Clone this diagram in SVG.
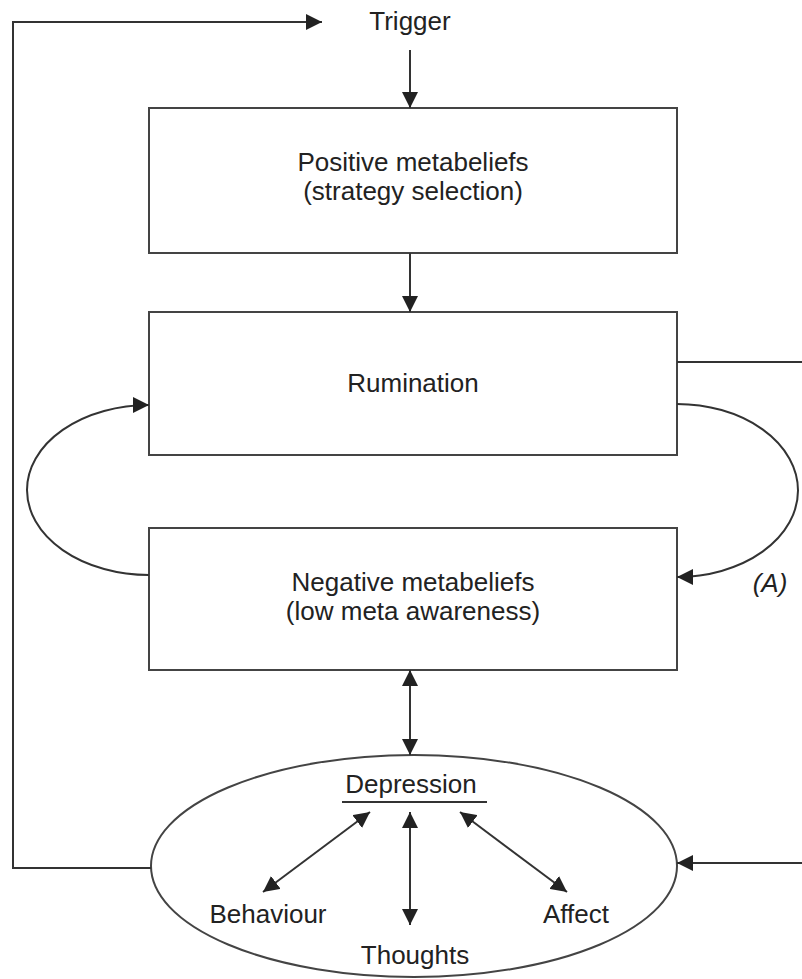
<svg xmlns="http://www.w3.org/2000/svg" width="802" height="979" viewBox="0 0 802 979">
<defs>
<style>
.box{fill:#fff;stroke:#444;stroke-width:2}
.ln{fill:none;stroke:#333;stroke-width:2}
.t{font-family:"Liberation Sans",Arial,sans-serif;font-size:26px;fill:#222;text-anchor:middle}
</style>
<marker id="ah" viewBox="0 0 16 16" refX="16" refY="8" markerWidth="16" markerHeight="16" markerUnits="userSpaceOnUse" orient="auto-start-reverse">
<path d="M0,0 L16,8 L0,16 Z" fill="#222"/>
</marker>
</defs>
<rect width="802" height="979" fill="#fff"/>
<g id="trigger"><text class="t" x="410" y="30">Trigger</text></g>
<g id="positive">
<rect class="box" x="149" y="108" width="528" height="145"/>
<text class="t" x="413" y="171">Positive metabeliefs</text>
<text class="t" x="413" y="200">(strategy selection)</text>
</g>
<g id="rumination">
<rect class="box" x="149" y="312" width="528" height="143"/>
<text class="t" x="413" y="392">Rumination</text>
</g>
<g id="negative">
<rect class="box" x="149" y="528" width="528" height="142"/>
<text class="t" x="413" y="591">Negative metabeliefs</text>
<text class="t" x="413" y="620">(low meta awareness)</text>
</g>
<g id="depression">
<ellipse class="box" cx="414" cy="866" rx="263" ry="111"/>
<text class="t" x="411" y="793">Depression</text>
<line class="ln" x1="342" y1="802" x2="487" y2="802"/>
<text class="t" x="268" y="923">Behaviour</text>
<text class="t" x="415" y="964">Thoughts</text>
<text class="t" x="576" y="923">Affect</text>
</g>
<g id="label-a"><text class="t" x="770" y="592" font-style="italic">(A)</text></g>
<g id="connectors">
<line class="ln" x1="410" y1="50" x2="410" y2="108" marker-end="url(#ah)"/>
<line class="ln" x1="410" y1="253" x2="410" y2="312" marker-end="url(#ah)"/>
<line class="ln" x1="410" y1="670" x2="410" y2="755" marker-start="url(#ah)" marker-end="url(#ah)"/>
<path class="ln" d="M151,868 H13 V22 H322" marker-end="url(#ah)"/>
<path class="ln" d="M149,575 A122,85 0 0 1 149,405" marker-end="url(#ah)"/>
<path class="ln" d="M677,404 A121,86.5 0 0 1 677,577" marker-end="url(#ah)"/>
<line class="ln" x1="677" y1="362" x2="802" y2="362"/>
<line class="ln" x1="802" y1="863" x2="677" y2="863" marker-end="url(#ah)"/>
<line class="ln" x1="370" y1="812" x2="263" y2="892" marker-start="url(#ah)" marker-end="url(#ah)"/>
<line class="ln" x1="410" y1="812" x2="410" y2="925" marker-start="url(#ah)" marker-end="url(#ah)"/>
<line class="ln" x1="460" y1="812" x2="567" y2="892" marker-start="url(#ah)" marker-end="url(#ah)"/>
</g>
</svg>
